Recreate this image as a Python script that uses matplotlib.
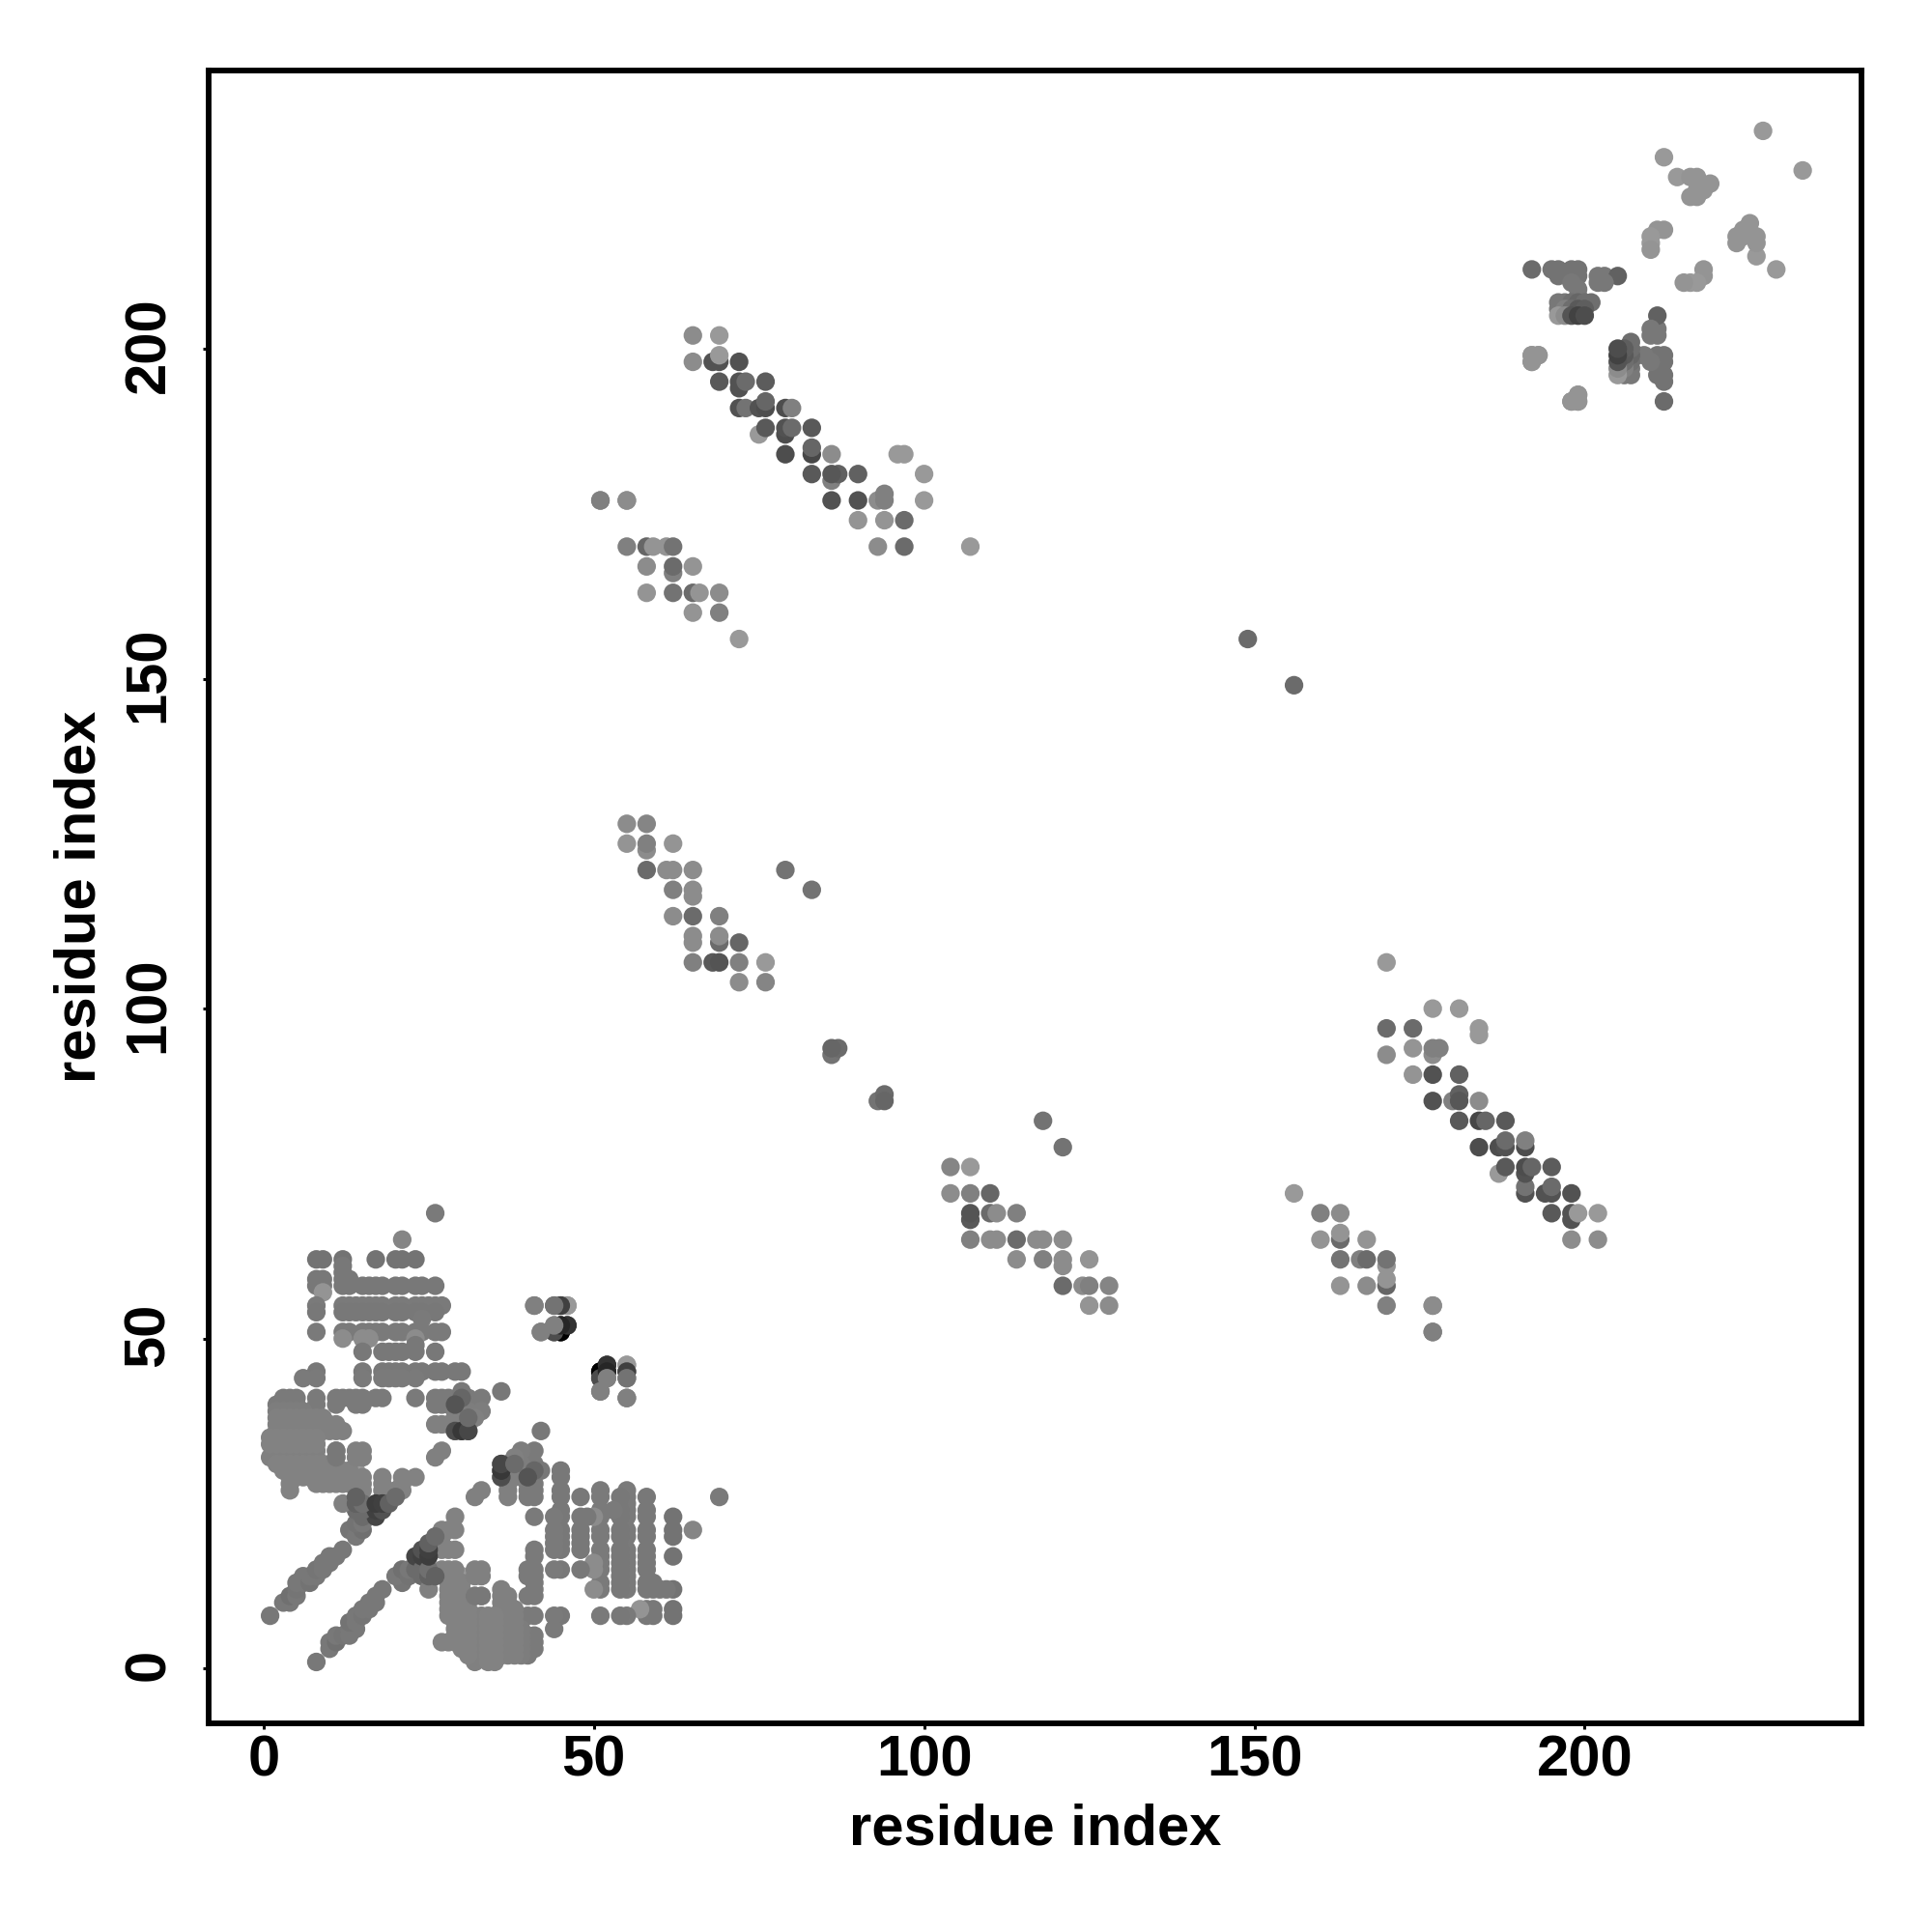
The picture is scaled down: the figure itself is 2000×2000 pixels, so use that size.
import matplotlib
matplotlib.use("Agg")
import matplotlib.pyplot as plt
from matplotlib.transforms import ScaledTranslation

plt.rcParams["font.family"] = ["Liberation Sans", "DejaVu Sans"]
plt.rcParams["font.weight"] = "bold"

# helical / local contacts: one row (j) -> residues i, one gray per row
block_j = [62, 61, 60, 59, 58, 57, 55, 54, 53, 51, 50, 49, 48, 45, 44, 41, 40, 42, 39, 38, 37, 36, 33, 32]
block_i = [
    [8, 9, 12, 17, 20, 21, 23],
    [12],
    [12],
    [8, 9, 12, 13],
    [8, 9, 12, 13, 15, 16, 17, 18, 20, 21, 23, 24, 26],
    [9],
    [8, 12, 13, 14, 15, 16, 17, 18, 20, 21, 23, 24, 25, 26, 27],
    [8, 12, 13, 14, 15, 16, 17, 18, 20, 21, 23, 24, 26],
    [24],
    [8, 12, 13, 15, 16, 17, 18, 20, 21, 23, 24, 26, 27],
    [12, 15, 16, 23],
    [23],
    [15, 18, 19, 20, 21, 23, 26],
    [8, 15, 18, 19, 20, 21, 23, 24, 26, 27, 29, 30],
    [6, 8, 15, 18, 19, 20, 21, 23],
    [3, 4, 5, 8, 11, 12, 13, 14, 15, 17, 18, 23, 26, 27, 28, 30, 31, 33],
    [2, 3, 4, 5, 8, 11, 14, 15, 26, 27, 28, 29, 30, 31],
    [30, 36],
    [2, 3, 4, 5, 6, 29, 30, 31, 33],
    [2, 3, 4, 5, 6, 7, 8, 9, 29, 30, 31, 32],
    [2, 3, 4, 5, 6, 7, 8, 9, 10, 11, 26, 27, 28, 29, 30, 31],
    [2, 3, 4, 5, 6, 7, 8, 9, 10, 11, 12, 29, 30, 31],
    [2, 3, 4, 5, 6, 7, 8, 11, 27],
    [1, 2, 3, 4, 5, 6, 7, 8, 11, 26],
]
block_gray = [0.45, 0.47, 0.47, 0.47, 0.47, 0.58, 0.48, 0.47, 0.48, 0.48, 0.55, 0.47, 0.47, 0.47, 0.48,
              0.48, 0.48, 0.47, 0.49, 0.5, 0.5, 0.5, 0.5, 0.5]

light_i = [14]
light_j = [30]
light_g = [0.6]

low_j = [35, 34, 31, 30, 29, 28, 27]
low_i = [
    [1, 2, 3, 4, 5, 6, 7, 8],
    [1, 2, 3, 4, 5, 6, 7, 8],
    [2, 3, 4, 5, 6, 7, 8, 9],
    [3, 4, 5, 6, 7, 8, 9, 10, 11, 12, 13],
    [4, 5, 6, 7, 8, 9, 10, 11, 12, 13, 15, 18, 21, 23],
    [4, 8, 9, 10, 11, 12, 13, 15, 18, 21],
    [4, 15, 18, 20, 21],
]

# near-diagonal streaks and smaller groups, i, j, gray
near_i = [1, 3, 4, 4, 5, 5, 5, 6, 6, 7, 7, 8, 8, 9, 9, 10, 10, 11, 12, 13, 14, 15, 14, 15, 15, 17, 14, 15, 17, 18,
          12, 14, 15, 17, 18, 19, 20, 14, 11, 11, 14, 15, 14, 15]
near_j = [8, 10, 10, 11, 11, 12, 13, 13, 14, 13, 14, 14, 15, 15, 16, 16, 17, 17, 18, 21, 20, 21, 22, 22, 23, 23, 24, 24, 24, 24,
          25, 25, 25, 25, 25, 25, 26, 26, 33, 32, 33, 33, 32, 32]
near_g = [0.47, 0.47, 0.47, 0.44, 0.47, 0.46, 0.47, 0.47, 0.47, 0.45, 0.47, 0.47, 0.46, 0.47, 0.47, 0.47, 0.47, 0.47, 0.47,
          0.46, 0.47, 0.44, 0.45, 0.47, 0.42, 0.27, 0.42, 0.42, 0.25, 0.32, 0.5, 0.38, 0.44, 0.24, 0.25, 0.38, 0.42,
          0.38, 0.47, 0.47, 0.5, 0.5, 0.5, 0.5]

dark_i = [29, 30, 31, 30, 29, 31, 41, 44, 45, 46, 44, 45, 46, 45, 44, 42]
dark_j = [36, 36, 36, 41, 40, 38, 55, 55, 55, 55, 52, 52, 52, 51, 51, 51]
dark_g = [0.3, 0.22, 0.28, 0.4, 0.33, 0.42, 0.48, 0.5, 0.25, 0.58, 0.5, 0.05, 0.2, 0.0, 0.35, 0.5]

knot_i = [51, 51, 52, 52, 52, 55, 55, 55, 51, 55, 26, 21, 86, 87, 86, 149, 51, 55]
knot_j = [45, 44, 46, 45, 44, 46, 45, 44, 42, 41, 69, 65, 93, 94, 94, 156, 177, 177]
knot_g = [0.0, 0.3, 0.2, 0.15, 0.5, 0.6, 0.25, 0.45, 0.5, 0.5, 0.48, 0.52, 0.45, 0.42, 0.4, 0.42, 0.5, 0.55]

# antiparallel sheet 65-107 / 170-202
sheet_i = [65, 69, 65, 68, 69, 72, 69, 69, 72, 72, 73, 76, 72, 73, 75, 76, 76, 79, 80, 75, 76, 79, 79, 80, 83,
           79, 83, 83, 86, 83, 86, 87, 86, 90, 100, 86, 90, 93, 94, 94, 100, 90, 94, 97, 93, 97, 107, 96, 97]
sheet_j = [202, 202, 198, 198, 198, 198, 199, 195, 195, 194, 195, 195, 191, 191, 191, 191, 192, 191, 191, 187,
           188, 187, 188, 188, 188, 184, 184, 185, 184, 181, 180, 181, 181, 181, 181, 177, 177, 177, 177, 178,
           177, 174, 174, 174, 170, 170, 170, 184, 184]
sheet_g = [0.55, 0.6, 0.55, 0.32, 0.32, 0.32, 0.6, 0.35, 0.32, 0.32, 0.42, 0.36, 0.32, 0.45, 0.32, 0.3, 0.4, 0.3, 0.5,
           0.6, 0.35, 0.3, 0.32, 0.42, 0.35, 0.3, 0.28, 0.4, 0.55, 0.35, 0.5, 0.38, 0.34, 0.38, 0.6, 0.32, 0.32,
           0.55, 0.5, 0.5, 0.6, 0.58, 0.58, 0.42, 0.55, 0.42, 0.6, 0.6, 0.6]

group_i = [51, 55, 55, 58, 59, 61, 62, 58, 62, 62, 65, 58, 62, 65, 66, 69, 65, 69, 72]
group_j = [177, 177, 170, 170, 170, 170, 170, 167, 166, 167, 167, 163, 163, 163, 163, 163, 160, 160, 156]
group_g = [0.5, 0.55, 0.5, 0.4, 0.58, 0.58, 0.45, 0.55, 0.5, 0.42, 0.58, 0.58, 0.45, 0.42, 0.58, 0.55, 0.58, 0.5, 0.6]

mid_i = [55, 58, 55, 58, 58, 62, 58, 61, 62, 65, 79, 83, 62, 65, 65, 62, 65, 69, 65, 65, 69, 69, 72, 65, 68, 69, 72, 76, 72, 76]
mid_j = [128, 128, 125, 124, 125, 125, 121, 121, 121, 121, 121, 118, 118, 117, 118, 114, 114, 114, 110, 111, 110, 111, 110,
         107, 107, 107, 107, 107, 104, 104]
mid_g = [0.55, 0.52, 0.58, 0.55, 0.5, 0.58, 0.42, 0.55, 0.55, 0.55, 0.45, 0.45, 0.5, 0.55, 0.55, 0.55, 0.42, 0.5, 0.55, 0.55,
         0.42, 0.55, 0.4, 0.5, 0.35, 0.33, 0.5, 0.6, 0.55, 0.52]

# C-terminal domain 192-233
cterm_i = [227, 212, 214, 216, 217, 218, 219, 216, 217, 217, 211, 212, 210, 210, 210,
           192, 193, 192, 198, 199, 199, 192, 195, 196, 198, 199, 196, 199, 202, 203, 205, 198, 202, 203, 199, 199, 201]
cterm_j = [233, 229, 226, 226, 226, 224, 225, 223, 223, 224, 218, 218, 217, 216, 215,
           198, 199, 199, 192, 192, 193, 212, 212, 212, 212, 212, 211, 211, 211, 211, 211, 210, 210, 210, 209, 208, 207]
cterm_g = [0.6, 0.6, 0.6, 0.58, 0.58, 0.58, 0.58, 0.58, 0.58, 0.58, 0.58, 0.58, 0.6, 0.6, 0.58,
           0.58, 0.58, 0.58, 0.58, 0.58, 0.58, 0.42, 0.45, 0.45, 0.45, 0.45, 0.45, 0.45, 0.47, 0.47, 0.38, 0.47, 0.47, 0.47, 0.47, 0.47, 0.43]

pack_i = [196, 197, 198, 199, 200, 196, 197, 198, 199, 200, 196, 197, 198, 199, 200]
pack_j = [207, 207, 207, 207, 207, 206, 206, 206, 206, 206, 205, 205, 205, 205, 205]
pack_g = [0.47, 0.47, 0.44, 0.4, 0.43, 0.47, 0.5, 0.43, 0.35, 0.37, 0.6, 0.55, 0.33, 0.26, 0.3]

xs, ys, grays = [], [], []

def add(i_vals, j_vals, g_vals):
    for i, j, g in zip(i_vals, j_vals, g_vals):
        xs.extend([i, j])
        ys.extend([j, i])
        grays.extend([g, g])

add(light_i, light_j, light_g)
for j, row, g in zip(block_j, block_i, block_gray):
    add(row, [j] * len(row), [g] * len(row))
for j, row in zip(low_j, low_i):
    add(row, [j] * len(row), [0.51] * len(row))
add(near_i, near_j, near_g)
add(dark_i, dark_j, dark_g)
add(knot_i, knot_j, knot_g)
add(sheet_i, sheet_j, sheet_g)
add(group_i, group_j, group_g)
add(mid_i, mid_j, mid_g)
add(cterm_i, cterm_j, cterm_g)
add(pack_i, pack_j, pack_g)

fig = plt.figure(figsize=(20, 20), dpi=100)
ax = fig.add_axes([0.108, 0.108, 0.8555, 0.8557])
ax.scatter(xs, ys, s=192, c=[str(g) for g in grays], linewidths=0)

ax.set_xlim(-8.3, 241.9)
ax.set_ylim(-8.3, 242.2)
ax.set_xticks([0, 50, 100, 150, 200])
ax.set_yticks([0, 50, 100, 150, 200])
ax.tick_params(length=4.5, width=2.2, labelsize=43)
ax.tick_params(axis="x", pad=3.5)
ax.tick_params(axis="y", pad=20)
plt.setp(ax.get_yticklabels(), rotation=90, va="center")
for label in ax.get_yticklabels():
    label.set_transform(label.get_transform() + ScaledTranslation(0, 3 / 72, fig.dpi_scale_trans))
for side in ax.spines.values():
    side.set_linewidth(4.2)

ax.set_xlabel("residue index", fontsize=43, fontweight="bold")
ax.set_ylabel("residue index", fontsize=43, fontweight="bold")
ax.xaxis.set_label_coords(0.5, -0.048)
ax.yaxis.set_label_coords(-0.0615, 0.5)

fig.savefig("out.png", dpi=100, facecolor="white")
